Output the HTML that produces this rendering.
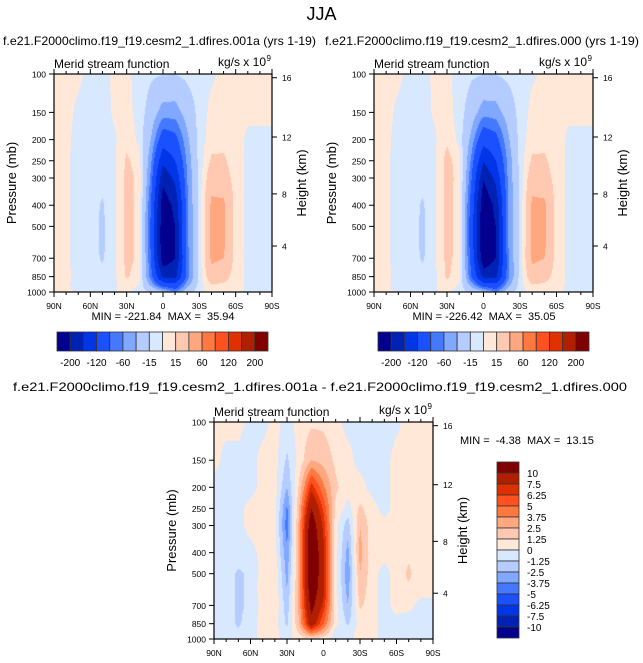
<!DOCTYPE html>
<html><head><meta charset="utf-8">
<style>
body{margin:0;background:#fff;width:643px;height:663px;overflow:hidden;position:relative;font-family:"Liberation Sans",sans-serif}
canvas{position:absolute}
svg{position:absolute;left:0;top:0}
text{white-space:pre}
</style></head>
<body>
<canvas id="c1"></canvas>
<canvas id="c2"></canvas>
<canvas id="c3"></canvas>
<svg id="s" width="643" height="663"></svg>
<script>
const lats=[90,80,70,60,50,40,30,20,10,0,-10,-20,-30,-40,-50,-60,-70,-80,-90];
const pres=[100,150,200,250,300,400,500,600,700,850,925,1000];
const levelsMain=[-200,-160,-120,-80,-60,-40,-15,0,15,40,60,80,120,160,200];
const labelsMain=["-200","-120","-60","-15","15","60","120","200"];
const levelsDiff=[-10,-7.5,-6.25,-5,-3.75,-2.5,-1.25,0,1.25,2.5,3.75,5,6.25,7.5,10];
const labelsDiff=["10","7.5","6.25","5","3.75","2.5","1.25","0","-1.25","-2.5","-3.75","-5","-6.25","-7.5","-10"];
const colors=["#03008E","#0022B4","#0036E8","#1A50FF","#4478FF","#80A8FF","#B4CCFF","#D8E8FF","#FFE8D8","#FFC8B0","#FFA880","#FF7840","#FF5020","#E03000","#B02000","#800000"];
const field1=[
[2,3,2,-3,-3,2,3,-5,-12,-14,-15,-10,-5,-2,3,3,3,2,1],
[2,3,-2,-4,-5,2,5,-5,-25,-50,-50,-30,-8,4,5,3,2,2,1],
[2,2,-3,-5,-6,-2,10,-3,-40,-100,-90,-45,-8,8,10,5,-2,-2,-1],
[2,2,-4,-6,-8,-3,18,8,-55,-150,-120,-55,-8,18,18,6,-3,-3,-1],
[2,2,-4,-7,-10,-3,20,12,-65,-190,-150,-60,-8,30,25,8,-4,-3,-1],
[2,2,-4,-8,-17,-3,20,12,-80,-225,-190,-65,-8,45,45,8,-4,-3,-1],
[2,2,-4,-8,-18,-3,20,12,-85,-230,-200,-65,-8,45,45,8,-4,-3,-1],
[2,2,-4,-8,-18,-3,20,12,-85,-230,-200,-65,-8,45,45,8,-4,-3,-1],
[2,2,-4,-8,-17,-3,20,12,-80,-225,-200,-70,-8,45,40,8,-4,-3,-1],
[2,2,-3,-6,-10,-3,17,8,-70,-170,-170,-70,-8,30,25,6,-3,-3,-1],
[2,1,-2,-3,-5,-2,8,0,-45,-100,-110,-50,-8,15,12,4,-2,-2,-1],
[2,1,-1,-1,-2,-1,3,-8,-15,-30,-60,-25,-5,5,5,2,-2,-2,-1]];
const field2=[
[2,3,2,-3,-3,2,3,-5,-12,-14,-15,-10,-5,-2,3,3,3,2,1],
[2,3,-2,-4,-5,2,6,-6,-27,-52,-50,-30,-8,4,5,3,2,2,1],
[2,2,-3,-5,-6,-2,12,-4,-47,-104,-91,-45,-8,8,10,5,-2,-2,-1],
[2,2,-4,-6,-8,-3,22,6,-65,-156,-121,-55,-9,18,18,6,-3,-3,-1],
[2,2,-4,-7,-10,-3,22,9,-77,-197,-150,-58,-10,30,25,8,-4,-3,-1],
[2,2,-4,-8,-17,-3,21,9,-93,-233,-190,-62,-11,45,45,8,-4,-3,-1],
[2,2,-4,-8,-18,-3,21,9,-98,-238,-200,-61,-10,45,45,8,-4,-3,-1],
[2,2,-4,-8,-18,-3,20,9,-97,-238,-200,-61,-10,45,45,8,-4,-3,-1],
[2,2,-4,-8,-17,-3,20,9,-91,-232,-200,-67,-9,45,40,8,-4,-3,-1],
[2,2,-3,-6,-10,-3,18,6,-79,-175,-170,-68,-8,30,25,6,-3,-3,-1],
[2,1,-2,-3,-5,-2,9,-1,-50,-103,-110,-50,-8,15,12,4,-2,-2,-1],
[2,1,-1,-1,-2,-1,3,-8,-16,-30,-60,-25,-5,5,5,2,-2,-2,-1]];
const field3=[
[0.5,0.5,0.5,-0.5,-0.5,0.5,-0.5,0.5,1,1,0.5,-0.5,-0.5,-0.5,-0.5,-0.3,0.5,0.5,0.5],
[0.5,-0.5,-0.5,-0.5,0.5,0.5,-1.5,0.5,2.5,2,1,0.5,-0.5,-0.5,-0.5,0.5,0.5,0.5,0.5],
[-0.5,-0.5,-0.5,-0.5,0.5,0.5,-2.5,1.5,7,4,1.5,0.5,0.5,-0.5,-0.5,0.5,0.5,0.5,0.5],
[-0.5,-0.5,-0.5,0.5,0.5,0.5,-4,2.5,10,6,1,-0.5,1.5,0.5,-0.5,0.5,0.5,0.5,0.5],
[-0.5,-0.5,-0.5,0.5,0.5,0.5,-4.5,3,12,7,0.5,-2,2.5,0.5,0.5,0.5,0.5,0.5,0.5],
[-0.5,-0.5,-0.5,-0.5,0.5,0.5,-3.5,3,13,8,0.5,-3,3,0.5,0.5,0.5,1,0.5,0.5],
[-0.5,-0.5,-1.5,-1,0.5,1,-3,3,13,8,0.5,-3.5,2.5,0.5,-0.5,0.5,1.5,0.5,0.5],
[-0.5,-0.5,-1.5,-1,1,1,-2.5,3,12,8,0.5,-3,2,0.5,-0.5,0.5,1,0.5,0.5],
[-0.5,-0.5,-1.5,-1,0.5,1,-2,3,11,7,0.5,-2.5,1.5,0.5,-0.5,0.5,0.5,-0.5,-0.5],
[-0.5,-0.5,-1.5,-0.5,0.5,0.5,-1.5,2.5,9,5,0.5,-1.5,0.5,0.5,-0.5,-0.5,-1,-0.5,-0.5],
[-0.5,-0.5,-1,-0.5,0.5,0.5,-1,1.5,5,3,-0.5,-0.5,0.5,0.5,-0.5,-0.5,-1,-0.5,-0.5],
[-0.5,-0.5,-0.5,-0.5,0.5,0.5,-0.5,0.5,1,0.5,-0.5,-0.5,0.5,0.5,-0.5,-0.5,-0.5,-0.5,-0.5]];
const pTicks=[100,150,200,250,300,400,500,700,850,1000];
const zTicks=["16","12","8","4"];
const zFrac=[0.017,0.289,0.55,0.789];
const xTickLabels=["90N","60N","30N","0","30S","60S","90S"];
const subtitles=["f.e21.F2000climo.f19_f19.cesm2_1.dfires.001a (yrs 1-19)","f.e21.F2000climo.f19_f19.cesm2_1.dfires.000 (yrs 1-19)"];
const minmax=["MIN = -221.84  MAX =  35.94","MIN = -226.42  MAX =  35.05","MIN =  -4.38  MAX =  13.15"];

const NS="http://www.w3.org/2000/svg";
const svg=document.getElementById('s');
function el(tag,attrs,parent){const e=document.createElementNS(NS,tag);for(const k in attrs)e.setAttribute(k,attrs[k]);(parent||svg).appendChild(e);return e;}
function txt(x,y,s,size,anchor,parent,name,extra){const t=el('text',Object.assign({x:x,y:y,'font-size':size,'text-anchor':anchor||'start','font-family':'Liberation Sans, sans-serif',fill:'#000'},extra||{}),parent);t.textContent=s;


return t;}

function sample(f,lat,p){
  let fx=(90-lat)/10; let i=Math.min(17,Math.max(0,Math.floor(fx))); let tx=fx-i;
  const lp=Math.log(p); let j=0; while(j<pres.length-2 && Math.log(pres[j+1])<lp) j++;
  let ty=(lp-Math.log(pres[j]))/(Math.log(pres[j+1])-Math.log(pres[j])); ty=Math.max(0,Math.min(1,ty));
  const a=f[j][i],b=f[j][i+1],c=f[j+1][i],d=f[j+1][i+1];
  return (a*(1-tx)+b*tx)*(1-ty)+(c*(1-tx)+d*tx)*ty;
}
function hex(h){return [parseInt(h.substr(1,2),16),parseInt(h.substr(3,2),16),parseInt(h.substr(5,2),16)];}
const rgb=colors.map(hex);
function drawField(id,f,levels,x0,y0,w,h){
  const cv=document.getElementById(id); cv.width=w; cv.height=h; cv.style.left=x0+'px'; cv.style.top=y0+'px';
  const ctx=cv.getContext('2d'); const img=ctx.createImageData(w,h);
  for(let y=0;y<h;y++){const p=100*Math.pow(10,(y+0.5)/h);
    for(let x=0;x<w;x++){const lat=90-180*(x+0.5)/w; const v=sample(f,lat,p);
      let k=0; while(k<levels.length && v>=levels[k]) k++;
      const c=rgb[k]; const o=(y*w+x)*4; img.data[o]=c[0];img.data[o+1]=c[1];img.data[o+2]=c[2];img.data[o+3]=255;}}
  ctx.putImageData(img,0,0);
}
function axes(x0,y0,w,h,name){
  const g=el('g',{});
  
  
  el('rect',{x:x0,y:y0,width:w,height:h,fill:'none',stroke:'#000','stroke-width':1.2},g);
  for(let k=0;k<=18;k++){const x=x0+w*k/18; const L=(k%3==0)?5:3;
    el('line',{x1:x,y1:y0,x2:x,y2:y0-L,stroke:'#000'},g); el('line',{x1:x,y1:y0+h,x2:x,y2:y0+h+L,stroke:'#000'},g);}
  xTickLabels.forEach((s,k)=>{txt(x0+w*k/6,y0+h+17,s,8.5,'middle',g,'x-tick-label');});
  pTicks.forEach(p=>{const y=y0+h*Math.log10(p/100); el('line',{x1:x0,y1:y,x2:x0-5,y2:y,stroke:'#000'},g);
    txt(x0-8,y+3.5,String(p),8.5,'end',g,'pressure-tick-label');});
  zTicks.forEach((s,k)=>{const y=y0+h*zFrac[k]; el('line',{x1:x0+w,y1:y,x2:x0+w+5,y2:y,stroke:'#000'},g);
    txt(x0+w+10,y+3.5,s,8.5,'start',g,'height-tick-label');});
  txt(x0+w+34,y0+h/2,'Height (km)',13,'middle',g,'height-axis-title',{transform:`rotate(-90 ${x0+w+34} ${y0+h/2})`});
  txt(x0-38,y0+h/2,'Pressure (mb)',13,'middle',g,'pressure-axis-title',{transform:`rotate(-90 ${x0-38} ${y0+h/2})`});
  txt(x0,y0-6,'Merid stream function',12,'start',g,'plot-label');
  txt(x0+w-6,y0-8,'kg/s x 10',12,'end',g,'units-label');
  txt(x0+w-1,y0-13,'9',8,'end',g,'units-exponent');
}
function hbar(x0,y0,w,h,name){
  const g=el('g',{});
  
  
  const bw=w/16;
  colors.forEach((c,k)=>{el('rect',{x:x0+k*bw,y:y0,width:bw,height:h,fill:c,stroke:'#333','stroke-width':0.8},g);});
  labelsMain.forEach((s,k)=>{txt(x0+bw*(1+2*k),y0+h+15,s,10,'middle',g,'colorbar-label');});
}
drawField('c1',field1,levelsMain,54,74,218,218);
drawField('c2',field2,levelsMain,374,74,219,218);
drawField('c3',field3,levelsDiff,214,422,219,217);
axes(54,74,218,218,'panel1'); axes(374,74,219,218,'panel2'); axes(214,422,219,217,'diff');
hbar(57,332,211,19,'colorbar-1'); hbar(378,332,211,19,'colorbar-2');
(function(){const g=el('g',{});
  
  
  const x0=497,y0=462,w=22,h=176,bh=h/16;
  colors.slice().reverse().forEach((c,k)=>{el('rect',{x:x0,y:y0+k*bh,width:w,height:bh,fill:c,stroke:'#333','stroke-width':0.8},g);});
  labelsDiff.forEach((s,k)=>{txt(x0+w+8,y0+bh*(k+1)+4,s,10,'start',g,'diff-colorbar-label');});
})();
txt(321.5,20,'JJA',18,'middle',null,'figure-title');
txt(3,45,subtitles[0],12,'start',null,'panel1-title',{textLength:313,lengthAdjust:'spacingAndGlyphs'});
txt(325,45,subtitles[1],12,'start',null,'panel2-title',{textLength:314,lengthAdjust:'spacingAndGlyphs'});
txt(13,391,'f.e21.F2000climo.f19_f19.cesm2_1.dfires.001a - f.e21.F2000climo.f19_f19.cesm2_1.dfires.000',12,'start',null,'diff-title',{textLength:614,lengthAdjust:'spacingAndGlyphs'});
txt(163,320,minmax[0],11,'middle',null,'panel1-minmax');
txt(484,320,minmax[1],11,'middle',null,'panel2-minmax');
txt(460,444,minmax[2],11,'start',null,'diff-minmax');
</script>
</body></html>
